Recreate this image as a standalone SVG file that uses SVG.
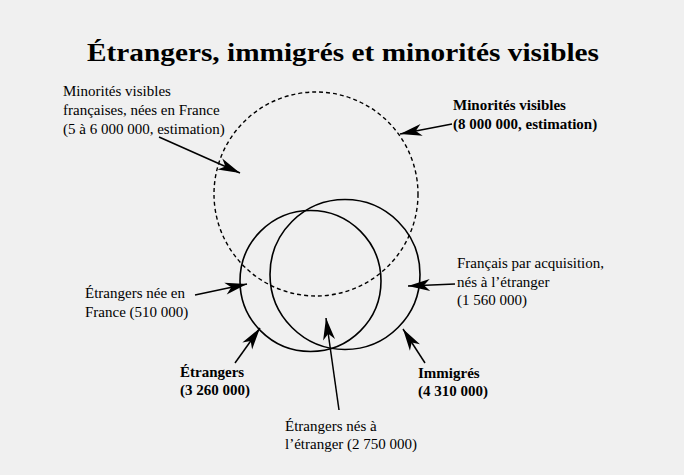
<svg xmlns="http://www.w3.org/2000/svg" width="684" height="475" viewBox="0 0 684 475">
  <defs>
    <style>
      .bg { fill: #f0f0f0; }
      .title { font-family: "Liberation Serif", "Times New Roman", serif; font-weight: bold; font-size: 26px; fill: #000; }
      .lbl { font-family: "Liberation Serif", "Times New Roman", serif; font-size: 15px; fill: #000; }
      .bold { font-weight: bold; }
      .solid { fill: none; stroke: #000; stroke-width: 1.6; }
      .dashed { fill: none; stroke: #000; stroke-width: 1.4; stroke-dasharray: 4 3; }
      .conn line { stroke: #000; stroke-width: 1.5; marker-end: url(#ah); }
    </style>
    <marker id="ah" viewBox="-23 -7 24 14" refX="0" refY="0" markerWidth="24" markerHeight="14" markerUnits="userSpaceOnUse" orient="auto">
      <path d="M0,0 L-22,-6 L-16,0 L-22,6 Z" fill="#000"/>
    </marker>
  </defs>
  <rect class="bg" x="0" y="0" width="684" height="475"/>
  <text class="title" x="343" y="61" text-anchor="middle" textLength="512" lengthAdjust="spacingAndGlyphs">Étrangers, immigrés et minorités visibles</text>

  <g id="minorites-visibles">
    <circle class="dashed" cx="316" cy="194" r="102"/>
    <text class="lbl bold" x="453" y="110">Minorités visibles</text>
    <text class="lbl bold" x="453" y="129">(8 000 000, estimation)</text>
  </g>
  <g id="etrangers">
    <circle class="solid" cx="310.5" cy="281" r="70.5"/>
    <text class="lbl bold" x="180" y="377">Étrangers</text>
    <text class="lbl bold" x="180" y="395">(3 260 000)</text>
  </g>
  <g id="immigres">
    <circle class="solid" cx="345" cy="274.5" r="75"/>
    <text class="lbl bold" x="418" y="378">Immigrés</text>
    <text class="lbl bold" x="418" y="396">(4 310 000)</text>
  </g>
  <g id="minorites-francaises">
    <text class="lbl" x="63" y="96">Minorités visibles</text>
    <text class="lbl" x="63" y="115">françaises, nées en France</text>
    <text class="lbl" x="63" y="134">(5 à 6 000 000, estimation)</text>
  </g>
  <g id="etrangers-nes-france">
    <text class="lbl" x="85" y="298">Étrangers née en</text>
    <text class="lbl" x="85" y="317">France (510 000)</text>
  </g>
  <g id="francais-acquisition">
    <text class="lbl" x="457" y="268">Français par acquisition,</text>
    <text class="lbl" x="457" y="287">nés à l’étranger</text>
    <text class="lbl" x="457" y="305">(1 560 000)</text>
  </g>
  <g id="etrangers-nes-etranger">
    <text class="lbl" x="285" y="431">Étrangers nés à</text>
    <text class="lbl" x="285" y="449">l’étranger (2 750 000)</text>
  </g>

  <g id="connectors" class="conn">
    <line x1="159" y1="137" x2="240" y2="173"/>
    <line x1="452" y1="124" x2="400" y2="134"/>
    <line x1="195" y1="295" x2="247" y2="284"/>
    <line x1="235" y1="363" x2="260" y2="328"/>
    <line x1="455" y1="284" x2="408" y2="286"/>
    <line x1="425" y1="363" x2="403" y2="329"/>
    <line x1="339" y1="410" x2="326" y2="318"/>
  </g>
</svg>
